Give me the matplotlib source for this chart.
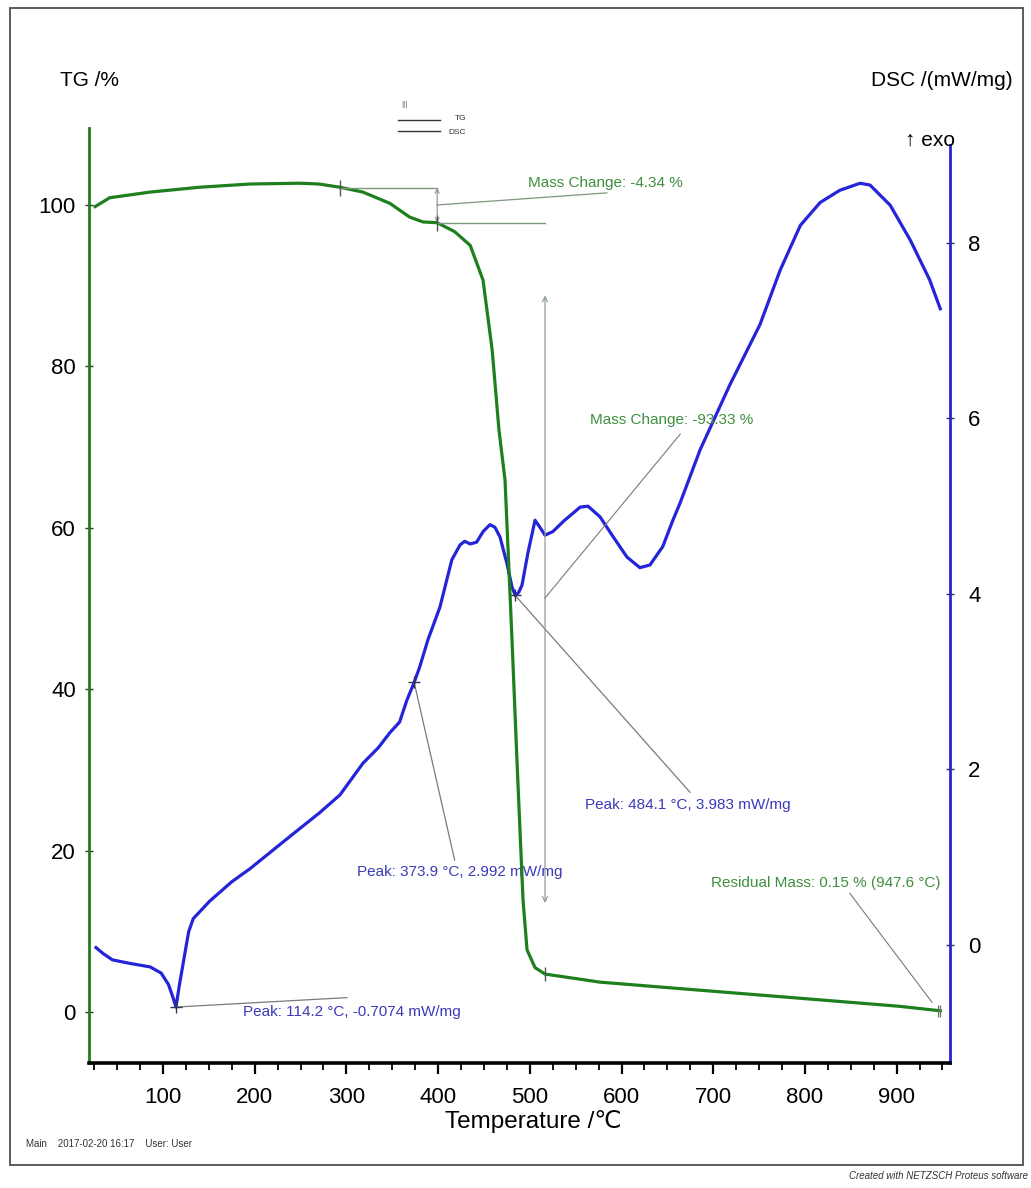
import matplotlib
matplotlib.use("Agg")
import matplotlib.pyplot as plt
from matplotlib.lines import Line2D
from matplotlib.patches import Rectangle
from matplotlib.ticker import MultipleLocator

FONT = ['Liberation Sans Narrow', 'Liberation Sans', 'DejaVu Sans']
plt.rcParams['font.family'] = FONT

# ---- measured curves -------------------------------------------------------
# TG: mass (%) against temperature (°C)
tg_temp = [26, 42, 86, 140, 195, 249, 270, 293, 318, 347.5, 369, 383.5, 399,
           418, 435, 449, 459, 466.4, 473, 480.6, 486, 492.6, 497, 505.7,
           516.6, 576.5, 685.6, 795, 903.7, 947.6]
tg_mass = [99.8, 100.9, 101.6, 102.2, 102.6, 102.7, 102.6, 102.2, 101.6, 100.2,
           98.5, 97.9, 97.8, 96.7, 95.0, 90.7, 82.0, 72.1, 65.9, 46.1,
           31.2, 13.9, 7.7, 5.5, 4.7, 3.7, 2.7, 1.7, 0.7, 0.15]

# DSC: heat flow (mW/mg) against temperature (°C)
dsc_temp = [27, 35, 45, 64, 86, 98, 106, 111, 114.2, 118, 123, 128, 133, 151,
            175, 195, 240, 270, 293, 318, 335, 347.5, 358, 366, 373.9, 380,
            389, 402, 415, 424, 429, 435, 442, 449, 456.6, 462, 467.5, 475,
            480.6, 484.1, 488, 491.5, 498, 505.7, 511, 516.6, 525, 538, 555,
            563.5, 576.5, 591, 606, 620, 631, 645, 656, 664, 685.6, 718, 751,
            773, 795, 816.5, 838, 860, 871, 893, 915, 936, 947.6]
dsc_val = [-0.03, -0.10, -0.17, -0.21, -0.25, -0.32, -0.45, -0.60, -0.7074,
           -0.45, -0.15, 0.15, 0.30, 0.50, 0.72, 0.87, 1.25, 1.50, 1.71, 2.07,
           2.25, 2.42, 2.54, 2.79, 2.992, 3.17, 3.48, 3.85, 4.39, 4.56, 4.60,
           4.57, 4.59, 4.71, 4.79, 4.76, 4.65, 4.35, 4.08, 3.983, 4.02, 4.10,
           4.47, 4.84, 4.76, 4.67, 4.71, 4.84, 4.99, 5.00, 4.88, 4.65, 4.42,
           4.30, 4.33, 4.54, 4.84, 5.04, 5.64, 6.38, 7.07, 7.69, 8.20, 8.46,
           8.60, 8.68, 8.66, 8.43, 8.03, 7.58, 7.25]

# ---- axis ticks ------------------------------------------------------------
x_ticks = [100, 200, 300, 400, 500, 600, 700, 800, 900]
tg_ticks = [0, 20, 40, 60, 80, 100]
dsc_ticks = [0, 2, 4, 6, 8]

# ---- evaluation results ----------------------------------------------------
dsc_peaks_T = [114.2, 373.9, 484.1]
dsc_peaks_v = [-0.7074, 2.992, 3.983]
mass_change_1 = -4.34
mass_change_2 = -93.33
residual_mass = 0.15
residual_temp = 947.6

TG_C = '#1d7f1d'
TG_TXT = '#3f8f3f'
DSC_C = '#2424d8'
DSC_TXT = '#3a3ab8'
LEAD = '#7a7a7a'
LEAD_G = '#7f967f'
ANN_FS = 11
TICK_FS = 16

W, H = 1031, 1188
fig = plt.figure(figsize=(W / 100, H / 100), dpi=100)


def fx(px):
    return px / W


def fy(py):
    return 1 - py / H


ax = fig.add_axes([fx(88.5), fy(1063), (950 - 88.5) / W, (1063 - 128) / H])
ax2 = ax.twinx()

# curves
ax2.plot(dsc_temp, dsc_val, color=DSC_C, lw=2.3, zorder=3)
ax.plot(tg_temp, tg_mass, color=TG_C, lw=2.3, zorder=4)
ax.set_zorder(ax2.get_zorder() + 1)
ax.patch.set_visible(False)

ax.set_xlim(18.8, 958.2)
ax.set_ylim(-6.32, 109.54)
ax2.set_ylim(-1.345, 9.31)

# spines
for s in ('top', 'right'):
    ax.spines[s].set_visible(False)
for s in ('top', 'left', 'bottom'):
    ax2.spines[s].set_visible(False)
ax.spines['left'].set_color(TG_C)
ax.spines['left'].set_linewidth(2.0)
ax.spines['bottom'].set_color('black')
ax.spines['bottom'].set_linewidth(2.6)
ax2.spines['right'].set_color(DSC_C)
ax2.spines['right'].set_linewidth(2.0)
ax2.spines['right'].set_bounds(-1.345, 9.12)

# ticks
ax.set_xticks(x_ticks)
ax.xaxis.set_minor_locator(MultipleLocator(25))
ax.tick_params(axis='x', which='major', direction='out', length=8, width=1.6,
               labelsize=TICK_FS, pad=9)
ax.tick_params(axis='x', which='minor', direction='out', length=5, width=1.3)
ax.set_yticks(tg_ticks)
ax.tick_params(axis='y', direction='inout', length=6, width=1.0,
               color='#333333', labelsize=TICK_FS, pad=6)
ax2.set_yticks(dsc_ticks)
ax2.tick_params(axis='y', direction='inout', length=6, width=1.0,
                color='#333333', labelsize=TICK_FS, pad=10)

# ---- mass change 1 ---------------------------------------------------------
t_a, t_b, t_c = 293, 399, 516.6
m_hi, m_lo = 102.1, 97.8
ax.plot([t_a, t_b], [m_hi, m_hi], color=LEAD_G, lw=1.0, zorder=5)
ax.plot([t_b, t_c], [m_lo, m_lo], color=LEAD_G, lw=1.0, zorder=5)
ax.plot([t_a, t_b], [m_hi, m_lo], ls='none', marker='|', ms=12, mew=1.0,
        color='#555555', zorder=6)
ax.annotate('', xy=(t_b, m_hi), xytext=(t_b, m_lo),
            arrowprops=dict(arrowstyle='<->', color='#8c8c8c', lw=0.8,
                            mutation_scale=7, shrinkA=0, shrinkB=0))
ax.plot([t_b, 584], [100.0, 101.5], color=LEAD_G, lw=0.9, zorder=5)
ax.text(498, 102.7, f'Mass Change: {mass_change_1:.2f} %', color=TG_TXT,
        fontsize=ANN_FS, ha='left', va='center', zorder=7)

# ---- mass change 2 ---------------------------------------------------------
ax.annotate('', xy=(t_c, 88.8), xytext=(t_c, 13.5),
            arrowprops=dict(arrowstyle='<->', color='#8f9f8f', lw=0.9,
                            mutation_scale=9, shrinkA=0, shrinkB=0))
ax.plot([t_c], [4.7], ls='none', marker='|', ms=10, mew=1.0, color='#555555',
        zorder=6)
ax.plot([t_c, 664], [51.3, 71.6], color=LEAD, lw=0.8, zorder=5)
ax.text(565.7, 73.4, f'Mass Change: {mass_change_2:.2f} %', color=TG_TXT,
        fontsize=ANN_FS, ha='left', va='center', zorder=7)

# ---- residual mass ---------------------------------------------------------
ax.plot([849, 938.6], [14.7, 1.2], color=LEAD, lw=0.8, zorder=5)
ax.plot([residual_temp - 3, residual_temp], [residual_mass, residual_mass],
        ls='none', marker='|', ms=9, mew=0.9, color='#667766', zorder=6)
ax.text(947.3, 16.0,
        f'Residual Mass: {residual_mass:.2f} % ({residual_temp:.1f} °C)',
        color=TG_TXT, fontsize=ANN_FS, ha='right', va='center', zorder=7)

# ---- DSC peaks -------------------------------------------------------------
lead_ends = [(300.5, -0.60), (418, 0.97), (674.7, 1.74)]
label_pos = [(187.2, -0.763), (311.6, 0.832), (560.2, 1.595)]
for (pt, pv), (lx, ly), (tx, ty) in zip(zip(dsc_peaks_T, dsc_peaks_v),
                                        lead_ends, label_pos):
    ax2.plot([pt, lx], [pv, ly], color=LEAD, lw=0.9, zorder=5)
    ax2.plot([pt], [pv], ls='none', marker='+', ms=9, mew=1.0,
             color='#333355', zorder=6)
    ax2.text(tx, ty, f'Peak: {pt:.1f} °C, {pv:.4g} mW/mg', color=DSC_TXT,
             fontsize=ANN_FS, ha='left', va='center', zorder=7)

# ---- axis titles -----------------------------------------------------------
fig.text(fx(60), fy(80), 'TG /%', fontsize=15, ha='left', va='center')
fig.text(fx(1013), fy(80), 'DSC /(mW/mg)', fontsize=15, ha='right',
         va='center')
fig.text(fx(905), fy(140), '↑ exo', fontsize=15, ha='left', va='center')
fig.text(fx(533), fy(1122), 'Temperature /℃', fontsize=17.5, ha='center',
         va='center')

# ---- curve key -------------------------------------------------------------
fig.add_artist(Line2D([fx(398), fx(440)], [fy(120), fy(120)],
                      color='#333333', lw=1.0))
fig.add_artist(Line2D([fx(398), fx(440)], [fy(131), fy(131)],
                      color='#333333', lw=1.0))
fig.text(fx(401), fy(104), '|||', fontsize=6, ha='left', va='center',
         color='#555555')
fig.text(fx(455), fy(119), 'TG', fontsize=6, ha='left', va='center',
         color='#333333')
fig.text(fx(448), fy(133), 'DSC', fontsize=6, ha='left', va='center',
         color='#333333')

# ---- page frame and footer -------------------------------------------------
fig.add_artist(Rectangle((fx(10), fy(1165)), (1023 - 10) / W, (1165 - 8) / H,
                         transform=fig.transFigure, fill=False,
                         edgecolor='#5a5a5a', lw=1.4))
fig.text(fx(26), fy(1144), 'Main    2017-02-20 16:17    User: User',
         fontsize=7, ha='left', va='center', color='#333333')
fig.text(fx(1028), fy(1176), 'Created with NETZSCH Proteus software',
         fontsize=7, ha='right', va='center', style='italic', color='#333333')

fig.savefig('out.png', dpi=100, facecolor='white')
